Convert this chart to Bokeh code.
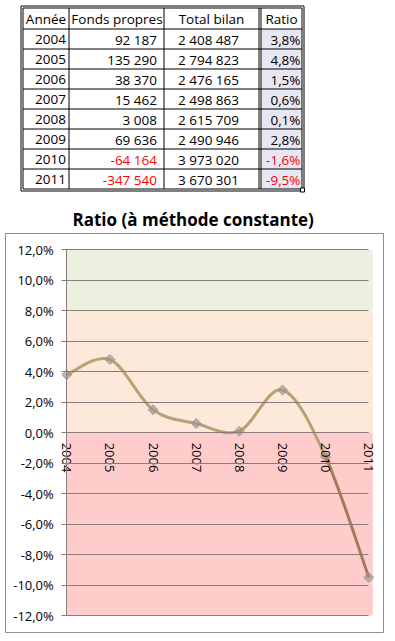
import math
import numpy as np
from bokeh.plotting import figure
from bokeh.layouts import column
from bokeh.models import Range1d, FixedTicker, BoxAnnotation, ColumnDataSource
from bokeh.core.properties import value
from bokeh.embed import file_html
from bokeh.resources import INLINE

# ---------------- data ----------------
years = [2004, 2005, 2006, 2007, 2008, 2009, 2010, 2011]
fonds_propres = [92187, 135290, 38370, 15462, 3008, 69636, -64164, -347540]
total_bilan = [2408487, 2794823, 2476165, 2498863, 2615709, 2490946, 3973020, 3670301]
ratio = [3.8, 4.8, 1.5, 0.6, 0.1, 2.8, -1.6, -9.5]
headers = ["Année", "Fonds propres", "Total bilan", "Ratio"]
chart_title = "Ratio (à méthode constante)"
y_ticks = [-12, -10, -8, -6, -4, -2, 0, 2, 4, 6, 8, 10, 12]
y_tick_labels = ["-12,0%", "-10,0%", "-8,0%", "-6,0%", "-4,0%", "-2,0%", "0,0%",
                 "2,0%", "4,0%", "6,0%", "8,0%", "10,0%", "12,0%"]
band_low = [8, 0, -12]
band_high = [12, 8, 0]

FONT = "Open Sans"
W = 395
FL, FR = 5, 383          # frame left / right on the canvas (both figures)

def fmt_int(v):
    return f"{v:,}".replace(",", " ")

def fmt_pct(v):
    return f"{v:.1f}%".replace(".", ",")

# ---------------- table ----------------
TH = 200
t = figure(width=W, height=TH, x_range=Range1d(FL, FR), y_range=Range1d(TH, 0),
           output_backend="svg", toolbar_location=None,
           min_border_left=FL, min_border_right=W - FR, min_border_top=0, min_border_bottom=0,
           x_axis_location=None, y_axis_location=None)
t.grid.visible = False
t.outline_line_color = None

n = len(years)
HEAD_TOP, HEAD_BOT, ROW_H = 7.5, 28.5, 20
col_x = [22.5, 68.5, 163.5, 258.5, 301.5]
RATIO_L = 260.5
row_top = [HEAD_BOT + i * ROW_H for i in range(n)]
row_bot = [r + ROW_H for r in row_top]
row_mid = [r + ROW_H / 2 + 0.5 for r in row_top]
TABLE_BOT = row_bot[-1]

t.quad(left=[RATIO_L] * n, right=[col_x[-1]] * n, top=row_top, bottom=row_bot,
       fill_color="#E6E7F3", line_color=None)

hy = [HEAD_TOP, HEAD_BOT] + row_bot
t.segment(x0=[col_x[0]] * len(hy), x1=[col_x[-1]] * len(hy), y0=hy, y1=hy,
          line_color="black", line_width=1)
vx = col_x + [RATIO_L]
t.segment(x0=vx, x1=vx, y0=[HEAD_TOP] * len(vx), y1=[TABLE_BOT] * len(vx),
          line_color="black", line_width=1)
t.quad(left=[col_x[0] - 2], right=[col_x[-1] + 2], top=[HEAD_TOP - 2], bottom=[TABLE_BOT + 2],
       fill_color=None, line_color="black", line_width=1)
t.quad(left=[col_x[-1] - 1.5], right=[col_x[-1] + 2.5], top=[TABLE_BOT - 1], bottom=[TABLE_BOT + 3],
       fill_color="white", line_color="black", line_width=1)

hdr_x = [45.5, 116.5, 211, 281]
hdr_mid = (HEAD_TOP + HEAD_BOT) / 2 + 0.5
t.text(x=hdr_x, y=[hdr_mid] * 4, text=headers, text_align="center",
       text_baseline="middle", text_font=value(FONT), text_font_size="13.5px",
       text_color="black")

red = "#FF0000"
src = ColumnDataSource(dict(
    y=row_mid,
    year=[str(v) for v in years],
    fp=[fmt_int(v) for v in fonds_propres],
    fp_c=[red if v < 0 else "black" for v in fonds_propres],
    tb=[fmt_int(v) for v in total_bilan],
    r=[fmt_pct(v) for v in ratio],
    r_c=[red if v < 0 else "black" for v in ratio],
))
common = dict(text_baseline="middle", text_font=value(FONT), text_font_size="13.5px")
t.text(x=65.5, y="y", text="year", text_align="right", text_color="black", source=src, **common)
t.text(x=156.5, y="y", text="fp", text_align="right", text_color="fp_c", source=src, **common)
t.text(x=208, y="y", text="tb", text_align="center", text_color="black", source=src, **common)
t.text(x=300, y="y", text="r", text_align="right", text_color="r_c", source=src, **common)

# ---------------- chart ----------------
CH = 641 - TH
TOP = TH                        # window y of the chart canvas
FT, FB = 233 - TOP, 632 - TOP   # frame top / bottom on the canvas
X0_PX, X1_PX = 66.3, 368.3      # canvas x of first / last category
Y_TOP_PX, Y_BOT_PX = 249.3 - TOP, 615 - TOP   # canvas y of 12% / -12%
ppy = (X1_PX - X0_PX) / (years[-1] - years[0])
ppv = (Y_BOT_PX - Y_TOP_PX) / (y_ticks[-1] - y_ticks[0])
x_start = years[0] - (X0_PX - FL) / ppy
x_end = years[-1] + (FR - X1_PX) / ppy
y_end = y_ticks[-1] + (Y_TOP_PX - FT) / ppv
y_start = y_ticks[0] - (FB - Y_BOT_PX) / ppv

GRID = "#8A7C7C"
p = figure(width=W, height=CH, x_range=Range1d(x_start, x_end), y_range=Range1d(y_start, y_end),
           output_backend="svg", toolbar_location=None,
           min_border_left=FL, min_border_right=W - FR, min_border_top=FT, min_border_bottom=CH - FB,
           title=chart_title)
p.outline_line_color = "#8C8C8C"
p.background_fill_color = "white"
p.border_fill_color = "white"

p.title.text_font = FONT
p.title.text_font_size = "17px"
p.title.text_font_style = "bold"
p.title.align = "left"
p.title.offset = 67
p.title.standoff = 5
p.title.text_color = "black"

band_right = years[-1] + 4 / ppy
for lo, hi, c in zip(band_low, band_high, ["#EBF1DE", "#FDE9D9", "#FFCCCC"]):
    p.add_layout(BoxAnnotation(left=years[0], right=band_right, bottom=lo, top=hi,
                               fill_color=c, fill_alpha=1, line_color=None, level="image"))

p.grid.visible = False

# y axis drawn at the first category; its inward ticks form the gridlines
p.yaxis.fixed_location = years[0]
p.yaxis.bounds = (y_ticks[0], y_ticks[-1])
p.yaxis.ticker = FixedTicker(ticks=y_ticks)
p.yaxis.major_label_overrides = {k: v for k, v in zip(y_ticks, y_tick_labels)}
p.yaxis.axis_line_color = GRID
p.yaxis.major_tick_line_color = GRID
p.yaxis.major_tick_out = 5
p.yaxis.major_tick_in = int(round(X1_PX - X0_PX))
p.yaxis.minor_tick_line_color = None
p.yaxis.major_label_standoff = 8
p.yaxis.major_label_text_font = FONT
p.yaxis.major_label_text_font_size = "13px"
p.yaxis.major_label_text_color = "black"

p.xaxis.fixed_location = 0
p.xaxis.bounds = (years[0], years[-1])
p.xaxis.ticker = FixedTicker(ticks=years)
p.xaxis.major_label_orientation = -math.pi / 2
p.xaxis.axis_line_color = GRID
p.xaxis.major_tick_out = 0
p.xaxis.major_tick_in = 0
p.xaxis.minor_tick_line_color = None
p.xaxis.major_label_standoff = 10
p.xaxis.major_label_text_font = FONT
p.xaxis.major_label_text_font_size = "13px"
p.xaxis.major_label_text_color = "black"

# smoothed line (cubic Bezier through the points, Excel-like smoothing)
xs = np.array(years, dtype=float)
ys = np.array(ratio, dtype=float)
idx = np.arange(n - 1)
prv = np.maximum(idx - 1, 0)
nxt = np.minimum(idx + 2, n - 1)
seg = ColumnDataSource(dict(
    x0=xs[idx], y0=ys[idx], x1=xs[idx + 1], y1=ys[idx + 1],
    cx0=xs[idx] + (xs[idx + 1] - xs[prv]) / 6, cy0=ys[idx] + (ys[idx + 1] - ys[prv]) / 6,
    cx1=xs[idx + 1] - (xs[nxt] - xs[idx]) / 6, cy1=ys[idx + 1] - (ys[nxt] - ys[idx]) / 6,
    color=["#B9A177"] * (n - 2) + ["#A47A58"],
))
p.bezier(x0="x0", y0="y0", x1="x1", y1="y1", cx0="cx0", cy0="cy0", cx1="cx1", cy1="cy1",
         line_color="color", line_width=3, source=seg)
p.scatter(years, ratio, marker="square", angle=math.pi / 4, size=7,
          fill_color="#9E8E78", fill_alpha=0.6, line_color="#9A9AAA", line_width=1)

layout = column(t, p, spacing=0)
open("out.html", "w").write(file_html(layout, INLINE))
